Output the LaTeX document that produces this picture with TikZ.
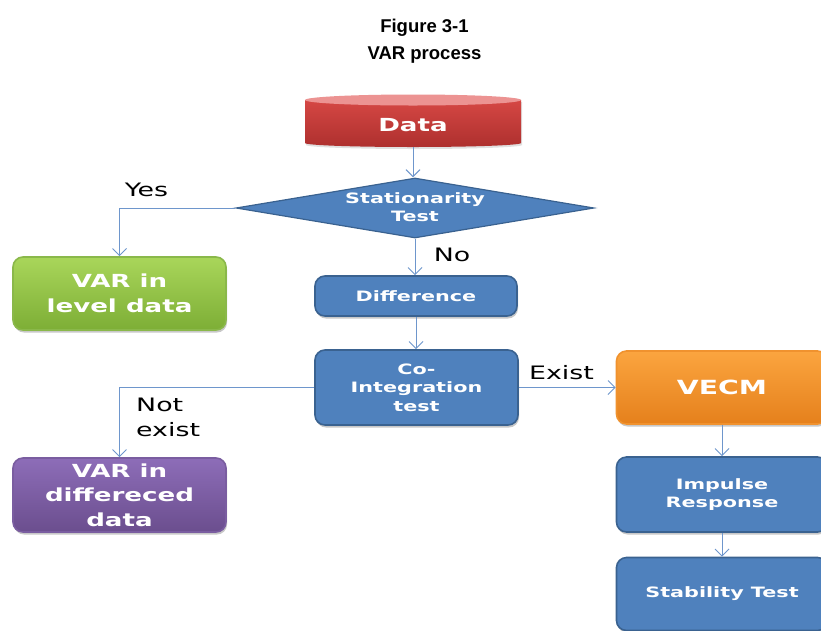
\documentclass[tikz,border=0pt]{standalone}
\usepackage{fontspec}
\setmainfont{Liberation Sans}
\newfontfamily\dvs{DejaVu Sans}[FakeStretch=1.45]
\usetikzlibrary{arrows.meta,shapes.geometric,shadows}
\definecolor{bfill}{HTML}{4F81BD}
\definecolor{bdraw}{HTML}{3A6290}
\definecolor{conn}{HTML}{6E96CC}
\definecolor{gtop}{HTML}{A9D65A}
\definecolor{gbot}{HTML}{7DAE36}
\definecolor{gdraw}{HTML}{8AB84A}
\definecolor{ptop}{HTML}{8D6DB8}
\definecolor{pbot}{HTML}{6B4E8E}
\definecolor{pdraw}{HTML}{7A5DA0}
\definecolor{otop}{HTML}{FBA53F}
\definecolor{obot}{HTML}{E5801C}
\definecolor{odraw}{HTML}{F0922E}
\definecolor{rtop}{HTML}{D54744}
\definecolor{rbot}{HTML}{AE302E}
\definecolor{rcap}{HTML}{EC9392}
\begin{document}
\begin{tikzpicture}[x=1pt,y=-1pt,
  shadowed/.style={drop shadow={shadow xshift=1pt,shadow yshift=-2.5pt,opacity=0.3,fill=black!70}},
  box/.style={rectangle,rounded corners=10pt,line width=1.6pt,text=white,align=center,inner sep=0pt,shadowed},
  bluebox/.style={box,fill=bfill,draw=bdraw,font=\dvs\bfseries\fontsize{14.3}{18.5}\selectfont},
  bigtext/.style={font=\dvs\bfseries\fontsize{18}{24.5}\selectfont},
  conline/.style={draw=conn,line width=1pt},
  arr/.style={conline,-{Straight Barb[length=7pt,width=14pt,line width=1pt]}},
  lbl/.style={font=\dvs\fontsize{18.5}{25}\selectfont,text=black,inner sep=0pt,align=left}
]
\useasboundingbox (0,0) rectangle (821,630);
\fill[white] (0,0) rectangle (821,630);

% title
\node[font=\bfseries\fontsize{18.5}{27}\selectfont,align=center] (title) at (424.5,41) {Figure 3-1\\VAR process};

% data cylinder
\node[minimum width=216pt,minimum height=52pt,inner sep=0pt] (data) at (413,121) {};
\fill[black!30,opacity=0.4] (306,102) -- (306,145) arc[start angle=180,end angle=360,x radius=108pt,y radius=4pt] -- (522,102) -- cycle;
\shade[top color=rtop,bottom color=rbot] (305,100) -- (305,143) arc[start angle=180,end angle=360,x radius=108pt,y radius=4pt] -- (521,100) -- cycle;
\fill[rcap] (413,100) ellipse[x radius=108pt,y radius=5.5pt];
\node[bigtext,text=white] (datatext) at (413,125) {Data};

% stationarity diamond
\node[diamond,aspect=5.97,minimum width=358pt,minimum height=60pt,inner sep=0pt,fill=bfill,draw=bdraw,line width=1.2pt] (st) at (415,208) {};
\node[text=white,font=\dvs\bfseries\fontsize{14.3}{18.5}\selectfont,align=center] (sttext) at (415,207) {Stationarity\\Test};

% boxes
\node[box,bigtext,top color=gtop,bottom color=gbot,draw=gdraw,minimum width=213pt,minimum height=73pt] (lvl) at (119.5,293.5) {VAR in\\level data};
\node[bluebox,minimum width=202pt,minimum height=40pt] (diff) at (416,296) {Difference};
\node[bluebox,minimum width=203pt,minimum height=75pt] (coint) at (416.5,387.5) {Co-\\Integration\\test};
\node[box,bigtext,top color=ptop,bottom color=pbot,draw=pdraw,minimum width=213pt,minimum height=74pt] (dif2) at (119.5,495) {VAR in\\differeced\\data};
\node[box,top color=otop,bottom color=obot,draw=odraw,minimum width=211pt,minimum height=73pt,font=\dvs\bfseries\fontsize{19.5}{24}\selectfont] (vecm) at (722,387.5) {VECM};
\node[bluebox,minimum width=211pt,minimum height=75pt] (imp) at (722,494.5) {Impulse\\Response};
\node[bluebox,minimum width=211pt,minimum height=73pt] (stab) at (722,594) {Stability Test};

% connectors
\draw[arr] (data.south) -- (data.south |- st.north);
\draw[arr] (st.west) -| (lvl.north);
\draw[arr] (st.south) -- (st.south |- diff.north);
\draw[arr] (diff.south) -- (diff.south |- coint.north);
\draw[arr] (coint.west) -| (dif2.north);
\draw[arr] (coint.east) -- (vecm.west);
\draw[arr] (vecm.south) -- (imp.north);
\draw[arr] (imp.south) -- (stab.north);

% labels
\node[lbl] (yes) at (146.5,190) {Yes};
\node[lbl] (no) at (452,255) {No};
\node[lbl] (exist) at (561.5,373) {Exist};
\node[lbl,anchor=west] (notexist) at (136,417) {Not\\exist};
\end{tikzpicture}
\end{document}
